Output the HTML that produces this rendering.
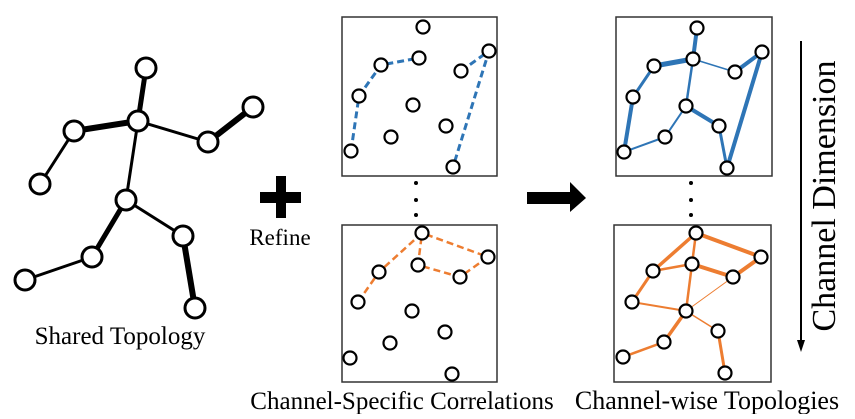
<!DOCTYPE html><html><head><style>body{margin:0;background:#fff;width:855px;height:414px;overflow:hidden}</style></head><body>
<svg width="855" height="414" xmlns="http://www.w3.org/2000/svg" font-family="Liberation Serif, serif">
<g stroke="#000" stroke-linecap="round">
<line x1="146" y1="68" x2="138" y2="121" stroke-width="5"/>
<line x1="138" y1="121" x2="74" y2="131" stroke-width="6"/>
<line x1="74" y1="131" x2="40" y2="184" stroke-width="3"/>
<line x1="138" y1="121" x2="208" y2="142" stroke-width="3"/>
<line x1="208" y1="142" x2="253" y2="107" stroke-width="6"/>
<line x1="138" y1="121" x2="126" y2="200" stroke-width="3"/>
<line x1="126" y1="200" x2="92" y2="257" stroke-width="5"/>
<line x1="92" y1="257" x2="25" y2="280" stroke-width="3"/>
<line x1="126" y1="200" x2="183" y2="236" stroke-width="3"/>
<line x1="183" y1="236" x2="195" y2="308" stroke-width="6"/>
</g>
<g fill="#fff" stroke="#000" stroke-width="3">
<circle cx="146" cy="68" r="10"/><circle cx="138" cy="121" r="10"/><circle cx="74" cy="131" r="10"/><circle cx="40" cy="184" r="10"/><circle cx="208" cy="142" r="10"/><circle cx="253" cy="107" r="10"/><circle cx="126" cy="200" r="10"/><circle cx="92" cy="257" r="10"/><circle cx="25" cy="280" r="10"/><circle cx="183" cy="236" r="10"/><circle cx="195" cy="308" r="10"/>
</g>
<text x="120" y="344" font-size="25" text-anchor="middle">Shared Topology</text>
<rect x="260" y="192" width="41" height="11" fill="#000"/><rect x="276" y="176" width="10" height="42" fill="#000"/>
<text x="280" y="245" font-size="23" text-anchor="middle">Refine</text>
<g fill="none" stroke="#333" stroke-width="1.5"><rect x="342" y="17" width="155" height="159"/><rect x="342" y="225" width="155" height="157"/><rect x="616" y="17" width="156" height="159"/><rect x="614" y="225" width="157" height="157"/></g>
<g fill="none" stroke="#2e75b6" stroke-width="3" stroke-dasharray="7,4">
<polyline points="351,151 359,96 381,65 419,58"/><polyline points="461,71 489,51 453,167"/></g>
<g fill="none" stroke="#ed7d31" stroke-width="2.5" stroke-dasharray="7,4">
<polyline points="358,302 379,272 422,233 418,265 460,277 488,257 422,233"/></g>
<g stroke="#2e75b6" stroke-linecap="round">
<line x1="697" y1="28" x2="693" y2="59" stroke-width="4"/><line x1="693" y1="59" x2="654" y2="66" stroke-width="5"/><line x1="654" y1="66" x2="633" y2="97" stroke-width="3"/><line x1="633" y1="97" x2="624" y2="152" stroke-width="4"/><line x1="624" y1="152" x2="665" y2="137" stroke-width="2"/><line x1="665" y1="137" x2="686" y2="106" stroke-width="2"/><line x1="686" y1="106" x2="693" y2="59" stroke-width="2.5"/><line x1="686" y1="106" x2="719" y2="126" stroke-width="4"/><line x1="719" y1="126" x2="727" y2="168" stroke-width="3"/><line x1="727" y1="168" x2="762" y2="52" stroke-width="4"/><line x1="762" y1="52" x2="735" y2="72" stroke-width="4"/><line x1="735" y1="72" x2="693" y2="59" stroke-width="1.5"/></g>
<g stroke="#ed7d31" stroke-linecap="round">
<line x1="696" y1="233" x2="653" y2="271" stroke-width="3.5"/><line x1="696" y1="233" x2="692" y2="264" stroke-width="2.5"/><line x1="696" y1="233" x2="761" y2="257" stroke-width="4"/><line x1="653" y1="271" x2="692" y2="264" stroke-width="2.5"/><line x1="692" y1="264" x2="733" y2="277" stroke-width="4"/><line x1="733" y1="277" x2="761" y2="257" stroke-width="4"/><line x1="653" y1="271" x2="632" y2="302" stroke-width="3"/><line x1="632" y1="302" x2="686" y2="311" stroke-width="2"/><line x1="692" y1="264" x2="686" y2="311" stroke-width="2.5"/><line x1="733" y1="277" x2="686" y2="311" stroke-width="1"/><line x1="686" y1="311" x2="718" y2="331" stroke-width="1.5"/><line x1="718" y1="331" x2="725" y2="373" stroke-width="3"/><line x1="686" y1="311" x2="664" y2="342" stroke-width="3.5"/><line x1="664" y1="342" x2="623" y2="357" stroke-width="2.5"/></g>
<g fill="#fff" stroke="#000" stroke-width="2.2">
<circle cx="423" cy="27" r="6.5"/><circle cx="419" cy="58" r="6.5"/><circle cx="381" cy="65" r="6.5"/><circle cx="359" cy="96" r="6.5"/><circle cx="351" cy="151" r="6.5"/><circle cx="413" cy="105" r="6.5"/><circle cx="391" cy="137" r="6.5"/><circle cx="446" cy="126" r="6.5"/><circle cx="461" cy="71" r="6.5"/><circle cx="489" cy="51" r="6.5"/><circle cx="453" cy="167" r="6.5"/>
<circle cx="422" cy="233" r="6.5"/><circle cx="418" cy="265" r="6.5"/><circle cx="379" cy="272" r="6.5"/><circle cx="358" cy="302" r="6.5"/><circle cx="412" cy="311" r="6.5"/><circle cx="445" cy="332" r="6.5"/><circle cx="390" cy="343" r="6.5"/><circle cx="350" cy="358" r="6.5"/><circle cx="452" cy="374" r="6.5"/><circle cx="460" cy="277" r="6.5"/><circle cx="488" cy="257" r="6.5"/>
<circle cx="697" cy="28" r="6.5"/><circle cx="693" cy="59" r="6.5"/><circle cx="654" cy="66" r="6.5"/><circle cx="633" cy="97" r="6.5"/><circle cx="624" cy="152" r="6.5"/><circle cx="686" cy="106" r="6.5"/><circle cx="665" cy="137" r="6.5"/><circle cx="719" cy="126" r="6.5"/><circle cx="735" cy="72" r="6.5"/><circle cx="762" cy="52" r="6.5"/><circle cx="727" cy="168" r="6.5"/>
<circle cx="696" cy="233" r="6.5"/><circle cx="692" cy="264" r="6.5"/><circle cx="653" cy="271" r="6.5"/><circle cx="632" cy="302" r="6.5"/><circle cx="686" cy="311" r="6.5"/><circle cx="718" cy="331" r="6.5"/><circle cx="664" cy="342" r="6.5"/><circle cx="623" cy="357" r="6.5"/><circle cx="725" cy="373" r="6.5"/><circle cx="733" cy="277" r="6.5"/><circle cx="761" cy="257" r="6.5"/>
</g>
<g fill="#000"><circle cx="416" cy="183" r="2"/><circle cx="416" cy="200" r="2"/><circle cx="416" cy="215" r="2"/><circle cx="691" cy="183" r="2"/><circle cx="691" cy="200" r="2"/><circle cx="691" cy="215" r="2"/></g>
<polygon points="527,192 570,192 570,182 586,198 570,212 570,204 527,204" fill="#000"/>
<line x1="801" y1="41" x2="801" y2="342" stroke="#000" stroke-width="2"/>
<polygon points="797,340 805,340 801,352" fill="#000"/>
<text transform="translate(835,196) rotate(-90)" font-size="34" text-anchor="middle">Channel Dimension</text>
<text x="402" y="409" font-size="25" text-anchor="middle">Channel-Specific Correlations</text>
<text x="707" y="409" font-size="26" text-anchor="middle">Channel-wise Topologies</text>
</svg></body></html>
